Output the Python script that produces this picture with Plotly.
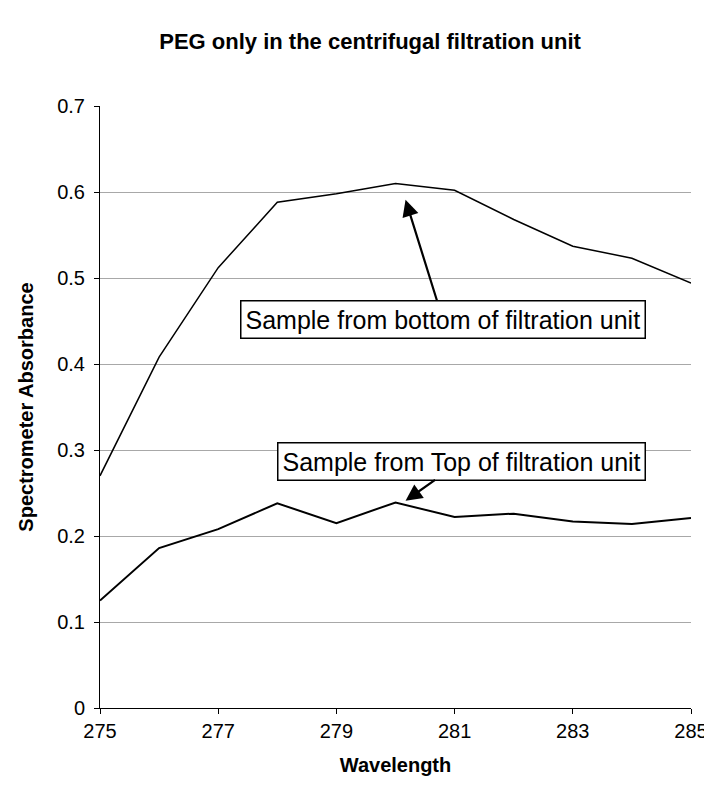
import plotly.graph_objects as go

wavelength = [275, 276, 277, 278, 279, 280, 281, 282, 283, 284, 285]
bottom_sample = [0.27, 0.408, 0.512, 0.588, 0.598, 0.610, 0.602, 0.568, 0.537, 0.523, 0.494]
top_sample = [0.125, 0.186, 0.208, 0.238, 0.215, 0.239, 0.222, 0.226, 0.217, 0.214, 0.221]

x_ticks = [275, 277, 279, 281, 283, 285]
y_ticks = [0, 0.1, 0.2, 0.3, 0.4, 0.5, 0.6, 0.7]

FONT = "Liberation Sans, Arial, sans-serif"

fig = go.Figure()
fig.add_trace(go.Scatter(x=wavelength, y=bottom_sample, mode="lines",
                         line=dict(color="black", width=1.5), showlegend=False))
fig.add_trace(go.Scatter(x=wavelength, y=top_sample, mode="lines",
                         line=dict(color="black", width=2), showlegend=False))

fig.add_annotation(x=280.17, y=0.591, ax=280.80, ay=0.452, axref="x", ayref="y",
                   text="Sample from bottom of filtration unit", showarrow=True,
                   arrowhead=2, arrowsize=1.5, arrowwidth=2.2, arrowcolor="black",
                   font=dict(family=FONT, size=25, color="black"),
                   bordercolor="black", borderwidth=1.5, borderpad=4, bgcolor="white")
fig.add_annotation(x=280.17, y=0.241, ax=281.12, ay=0.287, axref="x", ayref="y",
                   text="Sample from Top of filtration unit", showarrow=True,
                   arrowhead=2, arrowsize=1.5, arrowwidth=2.2, arrowcolor="black",
                   font=dict(family=FONT, size=25, color="black"),
                   bordercolor="black", borderwidth=1.5, borderpad=4, bgcolor="white")

fig.update_layout(
    width=712, height=788,
    margin=dict(l=92, r=24, t=98, b=88),
    paper_bgcolor="white", plot_bgcolor="white",
    font=dict(family=FONT, color="black"),
    title=dict(text="<b>PEG only in the centrifugal filtration unit</b>",
               x=0.457, xref="paper", xanchor="center", y=0.958, yanchor="middle",
               font=dict(family=FONT, size=22, color="black")),
    xaxis=dict(range=[275, 285], tickvals=x_ticks, ticktext=[str(v) for v in x_ticks],
               showgrid=False, zeroline=False, showline=True, linecolor="black", linewidth=1,
               ticks="outside", ticklen=5, tickcolor="black",
               tickfont=dict(family=FONT, size=20),
               title=dict(text="<b>Wavelength</b>", font=dict(family=FONT, size=20), standoff=16)),
    yaxis=dict(range=[0, 0.7], tickvals=y_ticks, ticktext=[("0" if v == 0 else f"{v:.1f}") for v in y_ticks],
               showgrid=True, gridcolor="#a8a8a8", gridwidth=1, zeroline=False,
               showline=True, linecolor="black", linewidth=1,
               ticks="outside", ticklen=5, tickcolor="black", ticklabelstandoff=5,
               tickfont=dict(family=FONT, size=20),
               title=dict(text="<b>Spectrometer Absorbance</b>", font=dict(family=FONT, size=20), standoff=18)),
)

fig.write_html("out.html")
